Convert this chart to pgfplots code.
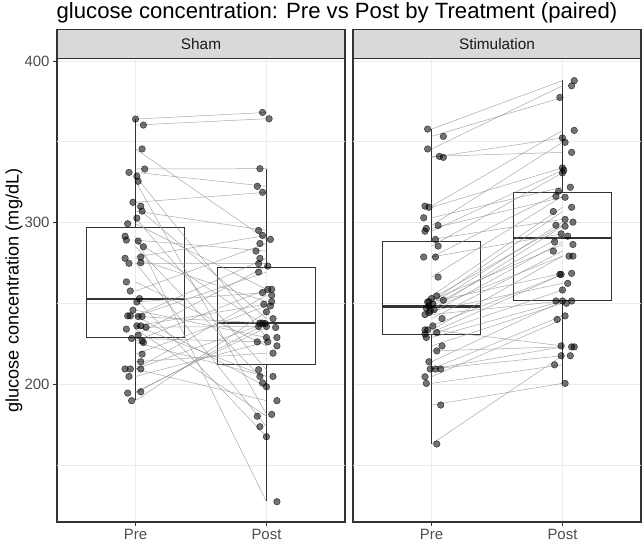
\documentclass[border=0pt]{standalone}
\usepackage{fontspec}
\setmainfont{Liberation Sans}
\usepackage{pgfplots}
\pgfplotsset{compat=1.18}
\usepackage{pgfplotstable}
\definecolor{grey20}{HTML}{333333}
\definecolor{grey30}{HTML}{4D4D4D}
\definecolor{grey10}{HTML}{1A1A1A}
\definecolor{grey92}{HTML}{EBEBEB}
\definecolor{grey85}{HTML}{D9D9D9}
\definecolor{pairline}{HTML}{8C8C8C}

% Sham: pre value, pre jitter, post value, post jitter (paired rows)
\pgfplotstableread{
pre prej post postj
364.0 0.00 368.1 -0.03
360.3 0.06 364.2 0.02
345.5 0.05 289.5 0.03
333.1 0.07 333.3 -0.05
331.0 -0.05 322.4 -0.07
328.6 0.01 228.8 0.00
325.5 0.02 181.2 0.04
312.5 -0.02 318.7 -0.03
310.1 0.04 240.5 0.05
307.0 0.05 295.1 -0.06
302.7 0.01 208.9 -0.06
299.2 -0.06 258.6 0.01
291.5 -0.08 127.2 0.08
289.1 -0.07 282.3 -0.08
288.5 0.02 235.6 -0.06
285.0 0.06 200.6 -0.03
278.6 0.04 292.0 -0.03
277.8 -0.08 251.0 0.04
275.1 0.04 173.6 -0.05
274.7 -0.05 274.5 -0.06
263.2 -0.07 223.6 0.08
257.6 -0.04 287.0 -0.05
252.9 0.03 167.4 0.00
250.8 0.01 256.6 -0.03
245.7 -0.02 228.8 0.08
242.2 -0.06 277.8 -0.05
242.2 -0.04 198.3 0.00
241.8 0.02 237.7 -0.05
241.8 0.05 269.3 -0.06
236.0 0.01 204.7 -0.05
236.0 0.04 249.4 -0.02
235.2 0.08 235.6 0.00
234.0 -0.07 180.1 -0.07
230.2 0.02 273.0 0.01
228.2 -0.03 226.1 -0.07
226.7 0.05 258.6 0.04
225.7 0.06 204.7 0.05
218.5 0.05 248.3 0.03
213.8 0.04 219.1 0.05
209.3 -0.08 254.9 0.04
209.3 -0.04 189.7 0.08
209.3 0.04 237.7 -0.03
204.7 -0.05 226.1 0.01
195.2 0.04 235.0 0.07
194.4 -0.06 237.5 -0.01
189.7 -0.03 244.7 0.00
}\sham

% Stimulation: pre value, pre jitter, post value, post jitter (paired rows)
\pgfplotstableread{
pre prej post postj
357.8 -0.03 387.8 0.09
353.3 0.09 377.4 -0.02
345.5 -0.03 384.6 0.07
340.9 0.06 343.4 0.07
340.3 0.09 352.3 0.00
310.1 -0.05 357.0 0.09
309.4 -0.02 333.8 0.00
302.9 -0.06 321.8 0.06
298.1 0.05 349.6 0.02
296.3 -0.04 315.6 0.02
294.6 -0.05 332.3 0.01
289.5 0.03 301.9 0.02
285.4 0.05 330.7 0.00
278.6 -0.06 319.3 -0.03
278.6 0.03 293.0 -0.01
266.2 0.05 316.2 -0.05
254.5 0.04 309.4 0.07
252.9 0.00 298.3 -0.05
251.9 0.09 286.4 0.08
251.0 -0.02 306.8 -0.07
250.8 -0.03 268.5 0.07
249.4 0.01 300.2 0.08
248.3 -0.02 291.5 0.04
247.0 -0.04 279.2 0.05
246.0 0.02 297.7 0.02
245.2 -0.01 262.3 0.04
244.2 -0.02 288.0 -0.06
243.0 -0.05 251.4 -0.05
240.5 0.08 282.3 -0.07
236.0 0.01 267.9 -0.02
233.5 -0.05 279.2 0.08
233.5 -0.03 223.6 -0.01
231.9 0.04 267.9 -0.01
230.9 -0.05 258.2 0.00
228.8 -0.04 251.4 0.00
223.6 0.08 250.0 0.03
220.5 0.04 223.0 0.07
213.8 -0.02 251.4 0.07
209.3 -0.01 242.2 0.02
209.3 0.03 223.0 0.09
209.3 0.07 217.5 -0.01
204.5 -0.05 240.0 -0.04
200.4 -0.04 211.9 -0.06
187.0 0.07 200.4 0.02
162.9 0.04 217.5 0.06
}\stim

\pgfplotsset{
  panel/.style={
    width=288bp, height=463.5bp, scale only axis, anchor=south west,
    xmin=0.4, xmax=2.6, ymin=114.6, ymax=401.5,
    xtick={1,2}, xticklabels={Pre,Post},
    ytick={200,300,400},
    extra y ticks={150,250,350}, extra y tick labels={},
    extra y tick style={tick style={draw=none}, major grid style={grey92, line width=0.45bp}},
    ymajorgrids, xmajorgrids,
    major grid style={grey92, line width=0.8bp},
    axis line style={grey20, line width=1.1bp},
    tick align=outside, xtick pos=bottom, ytick pos=left,
    major tick length=4bp,
    tick style={grey20, line width=0.8bp},
    ticklabel style={font=\fontsize{15}{17}\selectfont, text=grey30},
    /pgf/number format/assume math mode=true,
  },
  bx/.style={grey20, line width=1bp, solid, line join=miter},
  pts/.style={only marks, mark=*, mark size=3.3bp,
    mark options={fill=black, draw=black, fill opacity=0.55, draw opacity=0.65, line width=0.5bp}},
  prs/.style={pairline, line width=0.5bp, opacity=0.75},
}

% box (position; lower whisker, lower quartile, median, upper quartile, upper whisker)
\newcommand\boxp[6]{%
  \addplot[bx] coordinates {(#1,#3) (#1,#2)};
  \addplot[bx] coordinates {(#1,#5) (#1,#6)};
  \addplot[bx] coordinates {(#1-0.375,#3) (#1+0.375,#3) (#1+0.375,#5) (#1-0.375,#5) (#1-0.375,#3)};
  \addplot[bx, line width=2.2bp] coordinates {(#1-0.375,#4) (#1+0.375,#4)};
}

% draws one line per paired row of table #1, from (1,pre) to (2,post)
\newcommand\pairlines[1]{%
  \pgfplotstablegetrowsof{#1}%
  \pgfmathtruncatemacro\lastrow{\pgfplotsretval-1}%
  \foreach \i in {0,...,\lastrow}{%
    \pgfplotstablegetelem{\i}{pre}\of{#1}\let\va\pgfplotsretval
    \pgfplotstablegetelem{\i}{post}\of{#1}\let\vb\pgfplotsretval
    \edef\tmp{\noexpand\addplot[prs] coordinates {(1,\va) (2,\vb)};}\tmp
  }%
}

\begin{document}
\begin{tikzpicture}
\path[use as bounding box] (0,0) rectangle (644bp,545bp);

% ---------------- Sham ----------------
\begin{axis}[panel, at={(57bp,23bp)}]
\boxp{1}{190}{229}{252.5}{297}{364}
\boxp{2}{127.5}{212}{238}{272}{333}
\pairlines{\sham}
\addplot[pts] table[x expr=1+\thisrow{prej}, y=pre] {\sham};
\addplot[pts] table[x expr=2+\thisrow{postj}, y=post] {\sham};
\end{axis}

% ---------------- Stimulation ----------------
\begin{axis}[panel, at={(353bp,23bp)}, yticklabels={}, ytick style={draw=none}]
\boxp{1}{163}{230.7}{248}{288.5}{358}
\boxp{2}{200}{251.4}{290.6}{318.7}{388}
\pairlines{\stim}
\addplot[pts] table[x expr=1+\thisrow{prej}, y=pre] {\stim};
\addplot[pts] table[x expr=2+\thisrow{postj}, y=post] {\stim};
\end{axis}

% strips
\draw[grey20, fill=grey85, line width=1.1bp] (57bp,486.5bp) rectangle (345bp,515.7bp);
\node[text=grey10, font=\fontsize{15.4}{17}\selectfont] at (201bp,500.5bp) {Sham};
\draw[grey20, fill=grey85, line width=1.1bp] (353bp,486.5bp) rectangle (641bp,515.7bp);
\node[text=grey10, font=\fontsize{15.4}{17}\selectfont] at (497bp,500.5bp) {Stimulation};

% axis title and plot title
\node[rotate=90, font=\fontsize{18.2}{20}\selectfont] at (14bp,254.5bp) {glucose concentration (mg/dL)};
\node[anchor=base west, inner sep=0pt, font=\fontsize{22.2}{25}\selectfont] at (56.5bp,526.5bp) {glucose concentration: Pre vs Post by Treatment (paired)};
\end{tikzpicture}
\end{document}
